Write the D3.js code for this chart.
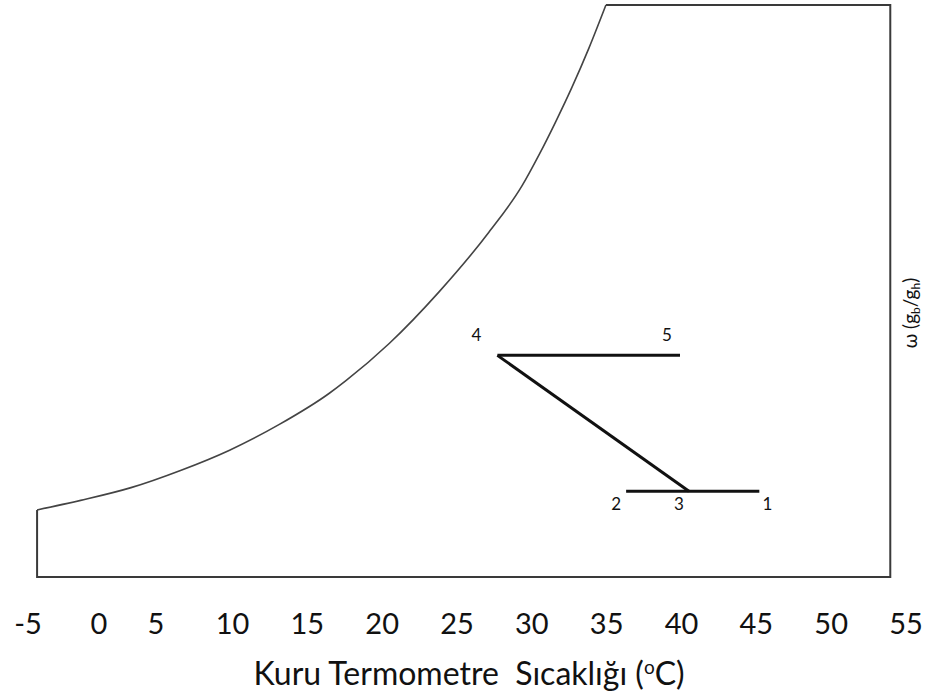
<!DOCTYPE html>
<html lang="tr">
<head>
    <meta charset="UTF-8">
    <title>Psikrometrik Diyagram</title>
    <script src="https://d3js.org/d3.v7.min.js"></script>
    <style>
        body { margin: 0; background: #fff; }
        svg text { font-family: Lato, "Open Sans", sans-serif; fill: #111; }
    </style>
</head>
<body>
    <svg width="941" height="696"></svg>

    <script>
        // tick labels along the temperature axis (°C)
        const tickLabels = [-5, 0, 5, 10, 15, 20, 25, 30, 35, 40, 45, 50, 55];

        // saturation curve: dry bulb temperature (°C) and humidity ratio (g/g)
        const satT = [-4.36, -1.29, 2.81, 6.60, 9.81, 13.13, 16.47, 17.6, 20.47, 23.8, 27.13, 29.33, 30.47, 31.6, 32.67, 33.8, 34.95];
        const satW = [0.00469, 0.00536, 0.00625, 0.00745, 0.00887, 0.01067, 0.01285, 0.01375, 0.01633, 0.01994, 0.02411, 0.02733, 0.02950, 0.03185, 0.03422, 0.03695, 0.04000];

        // chart frame limits
        const frameT = [-4.36, 53.95];
        const frameW = [0, 0.040];

        // process states
        const stateNames = ["1", "2", "3", "4", "5"];
        const stateT = [45.2, 36.3, 40.5, 27.7, 39.9];
        const stateW = [0.0060, 0.0060, 0.0060, 0.0155, 0.0155];

        // process lines between states
        const processLines = [["2", "1"], ["3", "4"], ["4", "5"]];

        const svg = d3.select("svg");

        // hand spaced axis in the original, so the scale is piecewise
        const x = d3.scaleLinear().domain([-5, 0, 5, 10, 55]).range([28, 99, 156, 232.5, 906]);
        const y = d3.scaleLinear().domain([0, 0.040]).range([577, 5]);

        const states = {};
        stateNames.forEach((n, i) => states[n] = {t: stateT[i], w: stateW[i]});

        // frame: top edge, right edge, bottom, left edge up to the curve
        const sat = satT.map((t, i) => ({t: t, w: satW[i]}));
        const frame = [
            {t: sat[sat.length - 1].t, w: frameW[1]},
            {t: frameT[1], w: frameW[1]},
            {t: frameT[1], w: frameW[0]},
            {t: frameT[0], w: frameW[0]},
            {t: frameT[0], w: sat[0].w}
        ];

        const lineLin = d3.line().x(d => x(d.t)).y(d => y(d.w));
        const lineCurve = d3.line().x(d => x(d.t)).y(d => y(d.w)).curve(d3.curveMonotoneX);

        svg.append("path")
            .attr("d", lineLin(frame))
            .attr("fill", "none")
            .attr("stroke", "#3a3a3a")
            .attr("stroke-width", 2);

        svg.append("path")
            .attr("d", lineCurve(sat))
            .attr("fill", "none")
            .attr("stroke", "#444")
            .attr("stroke-width", 1.6);

        svg.selectAll(".process")
            .data(processLines)
            .enter().append("path")
            .attr("class", "process")
            .attr("d", d => lineLin(d.map(n => states[n])))
            .attr("fill", "none")
            .attr("stroke", "#111")
            .attr("stroke-width", 3);

        const labelOffset = {"1": [8, 19], "2": [-10, 19], "3": [-10, 19], "4": [-21, -14], "5": [-13, -14]};

        svg.selectAll(".state-label")
            .data(stateNames)
            .enter().append("text")
            .attr("class", "state-label")
            .attr("x", d => x(states[d].t) + labelOffset[d][0])
            .attr("y", d => y(states[d].w) + labelOffset[d][1])
            .attr("text-anchor", "middle")
            .attr("font-size", 17)
            .text(d => d);

        // x tick labels
        svg.selectAll(".tick-label")
            .data(tickLabels)
            .enter().append("text")
            .attr("class", "tick-label")
            .attr("x", d => x(d))
            .attr("y", 634)
            .attr("text-anchor", "middle")
            .attr("font-size", 29)
            .text(d => d);

        const title = svg.append("text")
            .attr("x", 469)
            .attr("y", 685)
            .attr("text-anchor", "middle")
            .attr("font-size", 32)
            .attr("xml:space", "preserve");
        title.append("tspan").text("Kuru Termometre  Sıcaklığı (");
        title.append("tspan").attr("font-size", 19).attr("dy", -11).text("o");
        title.append("tspan").attr("dy", 11).text("C)");

        const yLabel = svg.append("text")
            .attr("transform", "translate(917,313) rotate(-90)")
            .attr("text-anchor", "middle")
            .attr("font-size", 19);
        yLabel.append("tspan").text("ω (g");
        yLabel.append("tspan").attr("font-size", 12).attr("dy", 3).text("b");
        yLabel.append("tspan").attr("dy", -3).text("/g");
        yLabel.append("tspan").attr("font-size", 12).attr("dy", 3).text("h");
        yLabel.append("tspan").attr("dy", -3).text(")");
    </script>
</body>
</html>
